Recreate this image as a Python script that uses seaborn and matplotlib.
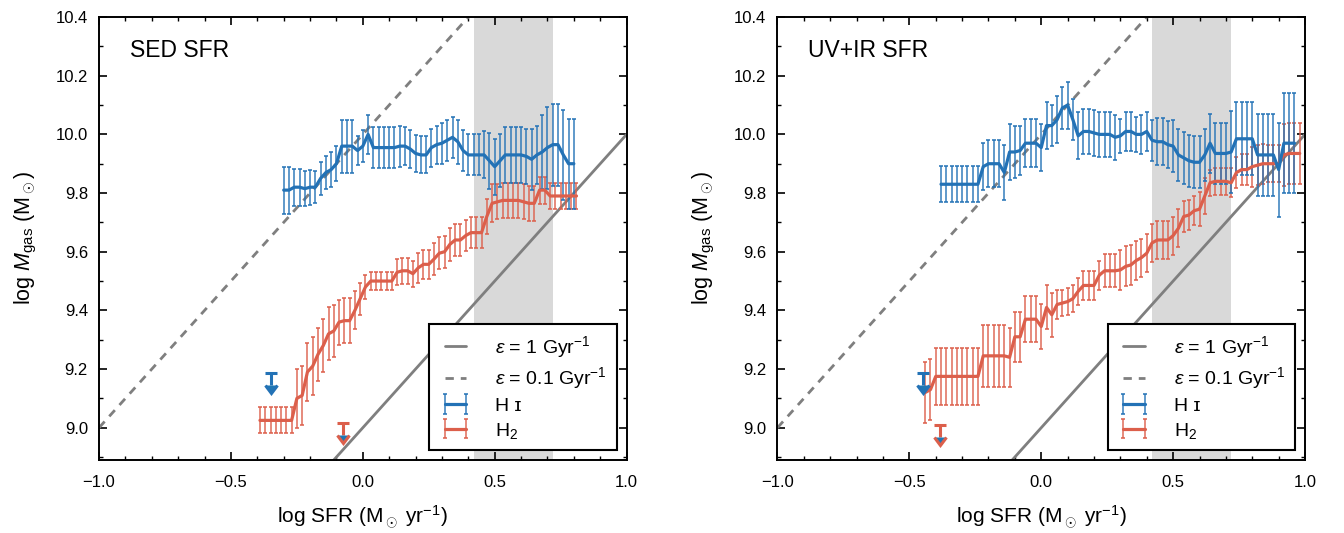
import numpy as np
import matplotlib
matplotlib.use("Agg")
import matplotlib.pyplot as plt
import seaborn as sns
from matplotlib.lines import Line2D
from matplotlib.ticker import MultipleLocator, FuncFormatter

# --- data: running medians of gas mass vs SFR ---

# left panel (SED SFR)
sed_hi_x = [-0.30, -0.28, -0.26, -0.24, -0.22, -0.20, -0.18, -0.16, -0.14, -0.12,
            -0.10, -0.08, -0.06, -0.04, -0.02, 0.00, 0.02, 0.04, 0.06, 0.08,
            0.10, 0.12, 0.14, 0.16, 0.18, 0.20, 0.22, 0.24, 0.26, 0.28,
            0.30, 0.32, 0.34, 0.36, 0.38, 0.40, 0.42, 0.44, 0.46, 0.48,
            0.50, 0.52, 0.54, 0.56, 0.58, 0.60, 0.62, 0.64, 0.66, 0.68,
            0.70, 0.72, 0.74, 0.76, 0.78, 0.80]
sed_hi_y = [9.81, 9.81, 9.82, 9.82, 9.815, 9.82, 9.82, 9.85, 9.87, 9.88,
            9.90, 9.96, 9.96, 9.96, 9.945, 9.96, 10.00, 9.955, 9.955, 9.955,
            9.955, 9.955, 9.96, 9.96, 9.95, 9.935, 9.93, 9.93, 9.955, 9.965,
            9.97, 9.98, 9.99, 9.975, 9.945, 9.93, 9.93, 9.93, 9.93, 9.91,
            9.89, 9.91, 9.93, 9.93, 9.93, 9.93, 9.925, 9.915, 9.93, 9.94,
            9.955, 9.965, 9.965, 9.93, 9.90, 9.90]
sed_hi_err = [0.08, 0.08, 0.063, 0.063, 0.06, 0.06, 0.055, 0.055, 0.055, 0.06,
              0.06, 0.09, 0.09, 0.09, 0.05, 0.055, 0.067, 0.07, 0.07, 0.07,
              0.07, 0.07, 0.07, 0.065, 0.065, 0.062, 0.063, 0.063, 0.065, 0.065,
              0.07, 0.07, 0.07, 0.075, 0.07, 0.07, 0.07, 0.07, 0.08, 0.095,
              0.095, 0.09, 0.095, 0.095, 0.095, 0.095, 0.095, 0.105, 0.10, 0.125,
              0.14, 0.14, 0.14, 0.153, 0.153, 0.153]

sed_h2_x = [-0.39, -0.37, -0.35, -0.33, -0.31, -0.29, -0.27, -0.25, -0.23, -0.21,
            -0.19, -0.17, -0.15, -0.13, -0.11, -0.09, -0.07, -0.05, -0.03, -0.01,
            0.01, 0.03, 0.05, 0.07, 0.09, 0.11, 0.13, 0.15, 0.17, 0.19,
            0.21, 0.23, 0.25, 0.27, 0.29, 0.31, 0.33, 0.35, 0.37, 0.39,
            0.41, 0.43, 0.45, 0.47, 0.49, 0.51, 0.53, 0.55, 0.57, 0.59,
            0.61, 0.63, 0.65, 0.67, 0.69, 0.71, 0.73, 0.75, 0.77, 0.79, 0.81]
sed_h2_y = [9.025, 9.025, 9.025, 9.025, 9.025, 9.025, 9.025, 9.10, 9.11, 9.19,
            9.21, 9.25, 9.28, 9.32, 9.33, 9.36, 9.365, 9.365, 9.40, 9.44,
            9.48, 9.50, 9.50, 9.50, 9.50, 9.50, 9.53, 9.535, 9.535, 9.525,
            9.545, 9.557, 9.557, 9.575, 9.595, 9.60, 9.625, 9.64, 9.64, 9.655,
            9.665, 9.665, 9.665, 9.72, 9.765, 9.77, 9.775, 9.775, 9.775, 9.775,
            9.77, 9.765, 9.765, 9.81, 9.81, 9.79, 9.79, 9.79, 9.79, 9.79, 9.79]
sed_h2_err = [0.044, 0.044, 0.044, 0.044, 0.044, 0.044, 0.044, 0.10, 0.10, 0.10,
              0.10, 0.09, 0.09, 0.09, 0.09, 0.077, 0.077, 0.077, 0.065, 0.055,
              0.04, 0.03, 0.03, 0.03, 0.03, 0.03, 0.045, 0.045, 0.045, 0.045,
              0.05, 0.05, 0.05, 0.055, 0.055, 0.055, 0.055, 0.055, 0.055, 0.053,
              0.053, 0.053, 0.053, 0.06, 0.065, 0.06, 0.06, 0.06, 0.06, 0.06,
              0.06, 0.06, 0.06, 0.046, 0.046, 0.045, 0.045, 0.045, 0.045, 0.045, 0.045]

# upper limits (H I, H2)
sed_lim_x = [-0.35, -0.075]
sed_lim_y = [9.185, 9.015]

# right panel (UV+IR SFR)
uvir_hi_x = [-0.38, -0.36, -0.34, -0.32, -0.30, -0.28, -0.26, -0.24, -0.22, -0.20,
             -0.18, -0.16, -0.14, -0.12, -0.10, -0.08, -0.06, -0.04, -0.02, 0.00,
             0.02, 0.04, 0.06, 0.08, 0.10, 0.12, 0.14, 0.16, 0.18, 0.20,
             0.22, 0.24, 0.26, 0.28, 0.30, 0.32, 0.34, 0.36, 0.38, 0.40,
             0.42, 0.44, 0.46, 0.48, 0.50, 0.52, 0.54, 0.56, 0.58, 0.60,
             0.62, 0.64, 0.66, 0.68, 0.70, 0.72, 0.74, 0.76, 0.78, 0.80,
             0.82, 0.84, 0.86, 0.88, 0.90, 0.92, 0.94, 0.96]
uvir_hi_y = [9.83, 9.83, 9.83, 9.83, 9.83, 9.83, 9.83, 9.83, 9.89, 9.90,
             9.90, 9.90, 9.87, 9.94, 9.94, 9.945, 9.97, 9.97, 9.97, 9.955,
             10.03, 10.03, 10.05, 10.09, 10.10, 10.05, 9.995, 10.01, 10.01, 10.005,
             10.00, 10.00, 10.00, 9.99, 9.995, 10.01, 10.01, 10.00, 10.00, 10.01,
             9.98, 9.975, 9.975, 9.965, 9.96, 9.93, 9.92, 9.91, 9.905, 9.905,
             9.93, 9.97, 9.935, 9.935, 9.935, 9.94, 9.985, 9.985, 9.985, 9.985,
             9.93, 9.93, 9.93, 9.93, 9.88, 9.97, 9.97, 9.97]
uvir_hi_err = [0.062, 0.062, 0.062, 0.062, 0.062, 0.062, 0.062, 0.062, 0.08, 0.08,
               0.08, 0.08, 0.095, 0.095, 0.09, 0.085, 0.082, 0.082, 0.082, 0.08,
               0.08, 0.07, 0.08, 0.07, 0.08, 0.07, 0.08, 0.077, 0.077, 0.077,
               0.077, 0.077, 0.077, 0.077, 0.057, 0.066, 0.066, 0.06, 0.066, 0.068,
               0.07, 0.08, 0.08, 0.08, 0.088, 0.088, 0.088, 0.088, 0.088, 0.088,
               0.09, 0.10, 0.105, 0.105, 0.105, 0.14, 0.125, 0.125, 0.125, 0.125,
               0.14, 0.14, 0.14, 0.14, 0.16, 0.17, 0.17, 0.17]

uvir_h2_x = [-0.44, -0.42, -0.40, -0.38, -0.36, -0.34, -0.32, -0.30, -0.28, -0.26,
             -0.24, -0.22, -0.20, -0.18, -0.16, -0.14, -0.12, -0.10, -0.08, -0.06,
             -0.04, -0.02, 0.00, 0.02, 0.04, 0.06, 0.08, 0.10, 0.12, 0.14,
             0.16, 0.18, 0.20, 0.22, 0.24, 0.26, 0.28, 0.30, 0.32, 0.34,
             0.36, 0.38, 0.40, 0.42, 0.44, 0.46, 0.48, 0.50, 0.52, 0.54,
             0.56, 0.58, 0.60, 0.62, 0.64, 0.66, 0.68, 0.70, 0.72, 0.74,
             0.76, 0.78, 0.80, 0.82, 0.84, 0.86, 0.88, 0.90, 0.92, 0.94,
             0.96, 0.98]
uvir_h2_y = [9.12, 9.13, 9.175, 9.175, 9.175, 9.175, 9.175, 9.175, 9.175, 9.175,
             9.175, 9.245, 9.245, 9.245, 9.245, 9.245, 9.24, 9.31, 9.31, 9.37,
             9.37, 9.37, 9.345, 9.41, 9.385, 9.42, 9.425, 9.43, 9.44, 9.465,
             9.485, 9.485, 9.485, 9.52, 9.535, 9.535, 9.535, 9.538, 9.55, 9.555,
             9.57, 9.58, 9.595, 9.63, 9.64, 9.64, 9.64, 9.655, 9.68, 9.72,
             9.725, 9.74, 9.745, 9.79, 9.835, 9.84, 9.84, 9.84, 9.835, 9.87,
             9.88, 9.88, 9.89, 9.895, 9.90, 9.90, 9.90, 9.90, 9.93, 9.935,
             9.935, 9.935]
uvir_h2_err = [0.105, 0.105, 0.097, 0.097, 0.097, 0.097, 0.097, 0.097, 0.097, 0.097,
               0.097, 0.105, 0.105, 0.105, 0.105, 0.105, 0.10, 0.086, 0.086, 0.078,
               0.078, 0.078, 0.078, 0.075, 0.075, 0.048, 0.045, 0.045, 0.045, 0.045,
               0.048, 0.048, 0.048, 0.05, 0.056, 0.056, 0.056, 0.068, 0.068, 0.068,
               0.065, 0.065, 0.065, 0.065, 0.065, 0.065, 0.065, 0.065, 0.065, 0.052,
               0.05, 0.05, 0.058, 0.06, 0.045, 0.045, 0.045, 0.045, 0.05, 0.053,
               0.054, 0.054, 0.068, 0.068, 0.068, 0.064, 0.064, 0.064, 0.105, 0.105,
               0.105, 0.105]

uvir_lim_x = [-0.45, -0.385]
uvir_lim_y = [9.185, 9.01]

# depletion-efficiency reference lines: log Mgas = log SFR + offset
ref_sfr = [-1.0, 1.0]
eps_offsets = [9.0, 10.0]      # eps = 1 Gyr^-1, eps = 0.1 Gyr^-1
eps_labels = [r'$\varepsilon$ = 1 Gyr$^{-1}$', r'$\varepsilon$ = 0.1 Gyr$^{-1}$']
eps_styles = ['-', (0, (3, 2.5))]

shade_range = [0.42, 0.72]

HI_COLOR = '#2372b6'
H2_COLOR = '#dc5f4b'
REF_COLOR = '#7f7f7f'

sns.set_style('ticks')
plt.rcParams['font.family'] = ['Liberation Sans', 'DejaVu Sans']
plt.rcParams['mathtext.fontset'] = 'custom'
plt.rcParams['mathtext.rm'] = 'Liberation Sans'
plt.rcParams['mathtext.it'] = 'Liberation Sans:italic'
plt.rcParams['mathtext.bf'] = 'Liberation Sans:bold'
plt.rcParams['text.color'] = 'black'
plt.rcParams['axes.labelcolor'] = 'black'
plt.rcParams['xtick.color'] = 'black'
plt.rcParams['ytick.color'] = 'black'

minus_fmt = FuncFormatter(lambda v, pos: f'{v:.1f}'.replace('-', '\u2212'))


def draw_panel(ax, title, hi, h2, lims):
    ax.axvspan(shade_range[0], shade_range[1], color='#d9d9d9', lw=0, zorder=0)

    ref_handles = []
    for off, ls, lab in zip(eps_offsets, eps_styles, eps_labels):
        sns.lineplot(x=ref_sfr, y=[s + off for s in ref_sfr], ax=ax, color=REF_COLOR,
                     lw=2, linestyle=ls, legend=False, zorder=1)
        ref_handles.append(Line2D([], [], color=REF_COLOR, lw=2, linestyle=ls))

    handles = []
    for (x, y, err), col in [(h2, H2_COLOR), (hi, HI_COLOR)]:
        h = ax.errorbar(x, y, yerr=err, fmt='-', color=col, lw=2.3,
                        ecolor=matplotlib.colors.to_rgba(col, 0.85), elinewidth=1.2,
                        capsize=1.7, capthick=1.3, zorder=3)
        handles.append(h)
    h2_handle, hi_handle = handles

    # upper limits
    for xv, yv, col in zip(lims[0], lims[1], [HI_COLOR, H2_COLOR]):
        ax.errorbar([xv], [yv], yerr=0.04, uplims=True, fmt='none', ecolor=col,
                    elinewidth=2.2, capsize=4, capthick=2.2, zorder=4)

    ax.set_xlim(-1.0, 1.0)
    ax.set_ylim(8.89, 10.4)
    ax.xaxis.set_major_locator(MultipleLocator(0.5))
    ax.xaxis.set_minor_locator(MultipleLocator(0.1))
    ax.yaxis.set_major_locator(MultipleLocator(0.2))
    ax.yaxis.set_minor_locator(MultipleLocator(0.1))
    ax.xaxis.set_major_formatter(minus_fmt)
    ax.yaxis.set_major_formatter(minus_fmt)
    ax.tick_params(which='both', direction='in', top=True, right=True, labelsize=12)
    ax.tick_params(which='major', length=6, width=1.2)
    ax.tick_params(axis='x', which='major', pad=11)
    ax.tick_params(axis='y', which='major', pad=8)
    ax.tick_params(which='minor', length=3, width=1.0)
    for sp in ax.spines.values():
        sp.set_linewidth(1.4)
        sp.set_color('black')

    ax.set_xlabel(r'log SFR (M$_\odot$ yr$^{-1}$)', fontsize=15, labelpad=10)
    ax.set_ylabel(r'log $M_{\rm gas}$ (M$_\odot$)', fontsize=15.5, labelpad=12)
    ax.text(0.058, 0.925, title, transform=ax.transAxes, fontsize=16.5, va='center')

    leg = ax.legend(ref_handles + [hi_handle, h2_handle],
                    eps_labels + ['H \u026a', r'H$_2$'],
                    loc='lower right', fontsize=14, numpoints=2, frameon=True,
                    fancybox=False, framealpha=1, edgecolor='black',
                    handlelength=1.7, handletextpad=1.2, labelspacing=0.3,
                    borderpad=0.5, borderaxespad=0.5)
    leg.get_frame().set_linewidth(1.5)


fig, axes = plt.subplots(1, 2, figsize=(13.44, 5.33), dpi=100)
fig.subplots_adjust(left=0.0737, right=0.971, bottom=0.137, top=0.968, wspace=0.286)

draw_panel(axes[0], 'SED SFR', (sed_hi_x, sed_hi_y, sed_hi_err),
           (sed_h2_x, sed_h2_y, sed_h2_err), (sed_lim_x, sed_lim_y))
draw_panel(axes[1], 'UV+IR SFR', (uvir_hi_x, uvir_hi_y, uvir_hi_err),
           (uvir_h2_x, uvir_h2_y, uvir_h2_err), (uvir_lim_x, uvir_lim_y))

plt.savefig('out.png', dpi=100)
